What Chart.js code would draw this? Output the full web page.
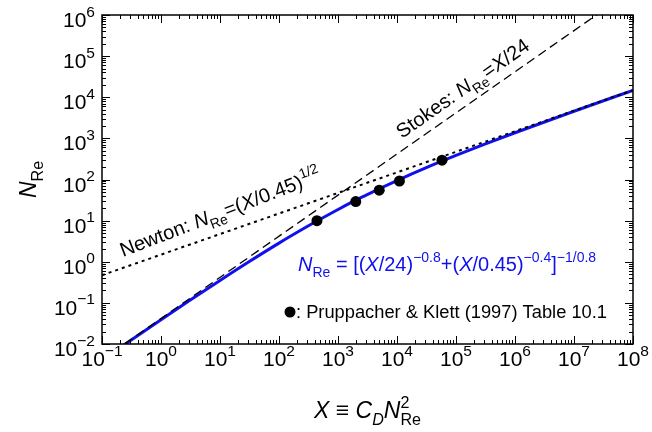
<!DOCTYPE html>
<html>
<head>
<meta charset="utf-8">
<script src="https://cdn.jsdelivr.net/npm/chart.js"></script>
<style>
  html, body { margin: 0; padding: 0; background: #fff; }
  #wrap { position: relative; width: 652px; height: 432px; }
</style>
</head>
<body>
<div id="wrap"><canvas id="chart" width="652" height="432"></canvas></div>
<script>
// tick exponents (decades)
const xTickExps = [-1, 0, 1, 2, 3, 4, 5, 6, 7, 8];
const yTickExps = [-2, -1, 0, 1, 2, 3, 4, 5, 6];

// blue fit curve
const fitX = [0.2, 0.3, 1, 3, 10, 30, 100, 300, 440, 1000, 2000, 3000, 5000, 1e4, 3e4, 1e5, 3e5, 1e6, 1e7, 1e8];
const fitY = [0.00802, 0.01197, 0.0389, 0.1124, 0.352, 0.972, 2.84, 7.17, 9.78, 18.6, 31.4, 41.7, 59.5, 94.5, 189, 385, 714, 1372, 4563, 14750];

// Stokes (dashed) and Newton (dotted) asymptotes, end points
const stokesX = [0.1, 1e8];
const stokesY = [0.00417, 4.17e6];
const newtonX = [0.1, 1e8];
const newtonY = [0.471, 14907];

// Pruppacher & Klett points
const pkX = [440, 2000, 5000, 11000, 58000];
const pkY = [10, 29, 55, 92, 295];

const FONT = '"Liberation Sans", Arial, Helvetica, sans-serif';
const pairs = (xs, ys) => xs.map((v, i) => ({ x: v, y: ys[i] }));

function fontOf(s, size) {
  const fs = (s.sub || s.sup) ? size * (s.r || 0.7) : size;
  return (s.it ? 'italic ' : '') + fs + 'px ' + FONT;
}

function drawRich(ctx, segs, x, y, size, color, align) {
  const parts = segs.map(s => {
    const font = fontOf(s, size);
    ctx.font = font;
    let w = ctx.measureText(s.t).width;
    let sfont = null;
    if (s.stack) {
      sfont = fontOf({ sup: true, r: s.r }, size);
      ctx.font = sfont;
      w = Math.max(w, ctx.measureText(s.stack).width);
    }
    return { t: s.t, font, w, stack: s.stack, sfont,
      dy: s.sub ? size * 0.3 : s.sup ? -size * (s.up || 0.45) : 0 };
  });
  const total = parts.reduce((a, p) => a + p.w, 0);
  let cx = align === 'center' ? x - total / 2 : align === 'right' ? x - total : x;
  ctx.fillStyle = color;
  ctx.textAlign = 'left';
  ctx.textBaseline = 'alphabetic';
  parts.forEach(p => {
    ctx.font = p.font;
    ctx.fillText(p.t, cx, y + p.dy);
    if (p.stack) { ctx.font = p.sfont; ctx.fillText(p.stack, cx, y - size * 0.42); }
    cx += p.w;
  });
  return total;
}

const pow10Label = e => [{ t: '10' }, { t: String(e).replace('-', '\u2212'), sup: true, r: 0.74, up: 0.5 }];

const decor = {
  id: 'decor',
  afterDraw(chart) {
    const { ctx, chartArea: a, scales: { x, y } } = chart;
    ctx.save();
    ctx.strokeStyle = '#000';
    ctx.lineWidth = 1.5;
    ctx.strokeRect(a.left, a.top, a.right - a.left, a.bottom - a.top);

    // inward ticks on all four sides
    ctx.lineWidth = 1;
    ctx.beginPath();
    xTickExps.forEach(e => {
      for (let k = 1; k <= 9; k++) {
        const v = k * Math.pow(10, e);
        if (v > x.max * 1.0001) break;
        const px = Math.round(x.getPixelForValue(v)) + 0.5;
        const len = k === 1 ? 8 : 4;
        ctx.moveTo(px, a.bottom); ctx.lineTo(px, a.bottom - len);
        ctx.moveTo(px, a.top); ctx.lineTo(px, a.top + len);
      }
    });
    yTickExps.forEach(e => {
      for (let k = 1; k <= 9; k++) {
        const v = k * Math.pow(10, e);
        if (v > y.max * 1.0001) break;
        const py = Math.round(y.getPixelForValue(v)) + 0.5;
        const len = k === 1 ? 8 : 4;
        ctx.moveTo(a.left, py); ctx.lineTo(a.left + len, py);
        ctx.moveTo(a.right, py); ctx.lineTo(a.right - len, py);
      }
    });
    ctx.stroke();

    // tick labels
    xTickExps.forEach(e => {
      drawRich(ctx, pow10Label(e), x.getPixelForValue(Math.pow(10, e)), a.bottom + 22, 21, '#000', 'center');
    });
    yTickExps.forEach(e => {
      drawRich(ctx, pow10Label(e), a.left - 7, y.getPixelForValue(Math.pow(10, e)) + 12, 21, '#000', 'right');
    });

    // axis titles
    drawRich(ctx, [{ t: 'X', it: true }, { t: ' \u2261 ' }, { t: 'C', it: true }, { t: 'D', it: true, sub: true },
      { t: 'N', it: true }, { t: 'Re', sub: true, stack: '2' }], (a.left + a.right) / 2, 418, 23, '#000', 'center');
    ctx.save();
    ctx.translate(36, (a.top + a.bottom) / 2);
    ctx.rotate(-Math.PI / 2);
    drawRich(ctx, [{ t: 'N', it: true }, { t: 'Re', sub: true }], 0, 0, 23, '#000', 'center');
    ctx.restore();

    // Newton annotation
    ctx.save();
    ctx.translate(123, 257);
    ctx.rotate(-21 * Math.PI / 180);
    drawRich(ctx, [{ t: 'Newton: ' }, { t: 'N', it: true }, { t: 'Re', sub: true }, { t: '=(' }, { t: 'X', it: true },
      { t: '/0.45)' }, { t: '1/2', sup: true }], 0, 0, 20, '#000', 'left');
    ctx.restore();

    // Stokes annotation
    ctx.save();
    ctx.translate(402, 139);
    ctx.rotate(-35 * Math.PI / 180);
    drawRich(ctx, [{ t: 'Stokes: ' }, { t: 'N', it: true }, { t: 'Re', sub: true }, { t: '=' }, { t: 'X', it: true },
      { t: '/24' }], 0, 0, 20, '#000', 'left');
    ctx.restore();

    // fit formula
    drawRich(ctx, [{ t: 'N', it: true }, { t: 'Re', sub: true }, { t: ' = [(' }, { t: 'X', it: true }, { t: '/24)' },
      { t: '\u22120.8', sup: true }, { t: '+(' }, { t: 'X', it: true }, { t: '/0.45)' }, { t: '\u22120.4', sup: true },
      { t: ']' }, { t: '\u22121/0.8', sup: true }], 298, 271, 20, '#1010ee', 'left');

    // data legend
    ctx.fillStyle = '#000';
    ctx.beginPath();
    ctx.arc(290, 312, 5.5, 0, Math.PI * 2);
    ctx.fill();
    drawRich(ctx, [{ t: ': Pruppacher & Klett (1997) Table 10.1' }], 296, 318, 18.3, '#000', 'left');
    ctx.restore();
  }
};

new Chart(document.getElementById('chart'), {
  type: 'scatter',
  data: {
    datasets: [
      { data: pairs(pkX, pkY), pointRadius: 5.5, pointBackgroundColor: '#000', pointBorderColor: '#000',
        pointBorderWidth: 0, showLine: false, order: 0 },
      { data: pairs(newtonX, newtonY), showLine: true, borderColor: '#000', borderWidth: 2, borderDash: [3, 4],
        pointRadius: 0, order: 1 },
      { data: pairs(stokesX, stokesY), showLine: true, borderColor: '#000', borderWidth: 1.3, borderDash: [9, 5],
        pointRadius: 0, order: 2 },
      { data: pairs(fitX, fitY), showLine: true, borderColor: '#1010ee', borderWidth: 3, cubicInterpolationMode: 'monotone',
        pointRadius: 0, order: 3 }
    ]
  },
  options: {
    responsive: false,
    animation: false,
    devicePixelRatio: 1,
    layout: { padding: { left: 102, top: 15, right: 19, bottom: 88 } },
    plugins: { legend: { display: false }, tooltip: { enabled: false } },
    scales: {
      x: { type: 'logarithmic', min: 0.1, max: 1e8, display: false },
      y: { type: 'logarithmic', min: 0.01, max: 1e6, display: false }
    }
  },
  plugins: [decor]
});
</script>
</body>
</html>
